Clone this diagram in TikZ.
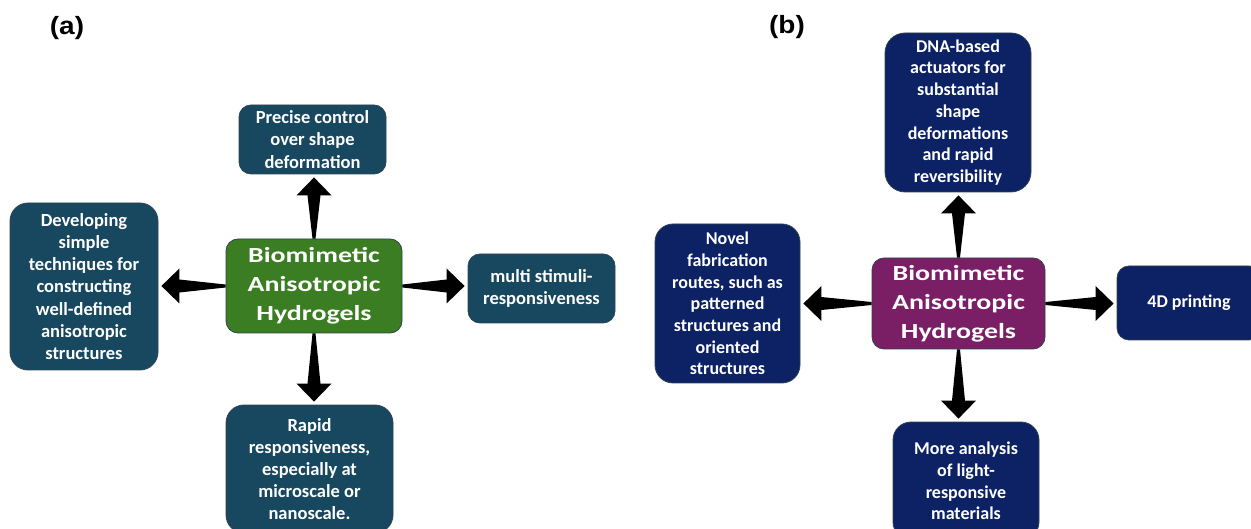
\documentclass[tikz,border=0pt]{standalone}
\usepackage{fontspec}
\setmainfont{Carlito}
\newfontfamily\labfont{Liberation Sans}
\usetikzlibrary{calc}
\definecolor{tealbox}{HTML}{17485F}
\definecolor{navybox}{HTML}{0C2264}
\definecolor{greenbox}{HTML}{3B7D23}
\definecolor{purplebox}{HTML}{7A1E66}
\definecolor{boxline}{HTML}{2F4350}
\tikzset{
  box/.style={rounded corners=12pt, draw=boxline, line width=0.8pt, text=white,
    align=center, inner sep=0pt, font=\bfseries\fontsize{18}{21.7}\selectfont},
  abox/.style={box, fill=tealbox, font=\bfseries\fontsize{18.5}{22.2}\selectfont},
  bbox/.style={box, fill=navybox},
  cbox/.style={box, font=\bfseries\fontsize{21.5}{29}\selectfont},
  panel/.style={font=\labfont\bfseries\fontsize{25}{29}\selectfont, inner sep=0pt},
}
\newcommand\fatarrow[2]{%
  \fill[black] let \p1=(#1), \p2=($(#2)!3pt!(#1)$), \p3=($(\p2)!18pt!(\p1)$) in
    ($(\p1)!1.5pt!90:(\p2)$) -- ($(\p3)!6.5pt!90:(\p2)$) -- ($(\p3)!17.5pt!90:(\p2)$)
    -- (\p2) -- ($(\p3)!17.5pt!-90:(\p2)$) -- ($(\p3)!6.5pt!-90:(\p2)$)
    -- ($(\p1)!1.5pt!-90:(\p2)$) -- cycle;}
\begin{document}
\begin{tikzpicture}[x=1pt,y=-1pt]
\useasboundingbox (0,0) rectangle (1251,529);
\clip (0,0) rectangle (1251,529);
% panel labels
\node[panel] (pa) at (67,28) {\scalebox{1.12}[1]{(a)}};
\node[panel] (pb) at (787,27) {\scalebox{1.12}[1]{(b)}};
% panel (a)
\node[cbox, fill=greenbox, minimum width=176pt, minimum height=94pt] (ca) at (314,286)
  {\scalebox{1.3}[1]{\begin{tabular}{@{}c@{}}Biomimetic\\Anisotropic\\Hydrogels\end{tabular}}};
\node[abox, minimum width=147pt, minimum height=69pt] (ta) at (312.5,139.5)
  {Precise control\\over shape\\deformation};
\node[abox, rounded corners=18pt, minimum width=148pt, minimum height=167pt] (la) at (84,286.5)
  {Developing\\simple\\techniques for\\constructing\\well-defined\\anisotropic\\structures};
\node[abox, minimum width=147pt, minimum height=69pt] (ra) at (541.5,288.5)
  {multi stimuli-\\responsiveness};
\node[abox, rounded corners=18pt, minimum width=167pt, minimum height=128pt] (ba) at (309.5,469)
  {Rapid\\responsiveness,\\especially at\\microscale or\\nanoscale.};
\fatarrow{ca.north}{ca.north |- ta.south}
\fatarrow{ca.west}{ca.west -| la.east}
\fatarrow{ca.east}{ca.east -| ra.west}
\fatarrow{ca.south}{ca.south |- ba.north}
% panel (b)
\node[cbox, fill=purplebox, minimum width=173pt, minimum height=91pt] (cb) at (958.5,303.5)
  {\scalebox{1.3}[1]{\begin{tabular}{@{}c@{}}Biomimetic\\Anisotropic\\Hydrogels\end{tabular}}};
\node[bbox, rounded corners=20pt, minimum width=146pt, minimum height=159pt] (tb) at (958,112.5)
  {DNA-based\\actuators for\\substantial\\shape\\deformations\\and rapid\\reversibility};
\node[bbox, rounded corners=18pt, minimum width=145pt, minimum height=159pt] (lb) at (727.5,303.5)
  {Novel\\fabrication\\routes, such as\\patterned\\structures and\\oriented\\structures};
\node[bbox, minimum width=144pt, minimum height=74pt] (rb) at (1189,303)
  {4D printing};
\node[bbox, rounded corners=18pt, minimum width=146pt, minimum height=118pt] (bb) at (966,481)
  {More analysis\\of light-\\responsive\\materials};
\fatarrow{cb.north}{cb.north |- tb.south}
\fatarrow{cb.west}{cb.west -| lb.east}
\fatarrow{cb.east}{cb.east -| rb.west}
\fatarrow{cb.south}{cb.south |- bb.north}
\end{tikzpicture}
\end{document}
